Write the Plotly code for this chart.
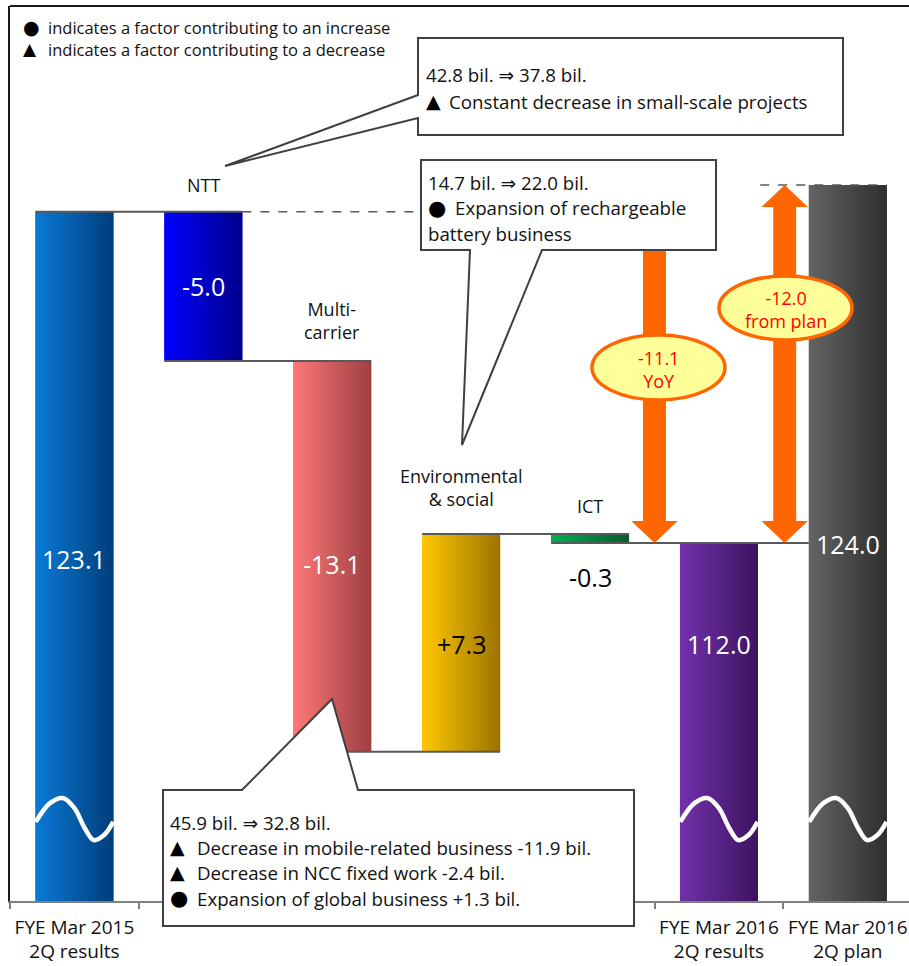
import plotly.graph_objects as go

# ---------------- data ----------------
categories = ["FYE Mar 2015 2Q results", "NTT", "Multi-carrier", "Environmental & social",
              "ICT", "FYE Mar 2016 2Q results", "FYE Mar 2016 2Q plan"]
start_value = 123.1
segment_names = ["NTT", "Multi-carrier", "Environmental & social", "ICT"]
segment_changes = [-5.0, -13.1, 7.3, -0.3]
result_value = 112.0
plan_value = 124.0
yoy_change = -11.1
plan_change = -12.0
tick_positions = [0, 5, 6]
tick_labels = ["FYE Mar 2015<br>2Q results", "FYE Mar 2016<br>2Q results", "FYE Mar 2016<br>2Q plan"]
value_texts = ["123.1", "-5.0", "-13.1", "+7.3", "-0.3", "112.0", "124.0"]
segment_titles = ["NTT", "Multi-<br>carrier", "Environmental<br>& social", "ICT"]

# ---------------- styles / layout constants ----------------
W, H = 909, 966
ML, MR, MT, MB = 10, 0, 6, 65
Y0, Y1 = 100, 130
X0 = -0.5
PXX = 128.9
X1 = X0 + (W - ML - MR) / PXX
PXY = (H - MT - MB) / (Y1 - Y0)
FONT = "'Open Sans', 'DejaVu Sans', sans-serif"
SYMFONT = "'DejaVu Sans', sans-serif"
bar_colors = ["#0665B4", "#0000D8", "#DD6464", "#DDA300", "#00A04A", "#5A2290", "#4C4C4C"]
grad_left = ["#0A7AD6", "#0000FF", "#FF7878", "#FFC800", "#00B050", "#7230AA", "#646464"]
grad_right = ["#003D7A", "#00008C", "#9E3F42", "#9C7300", "#0A5A30", "#3C1460", "#2E2E2E"]
label_colors = ["white", "white", "white", "black", "black", "white", "white"]
label_y = [111.45, 120.6, 111.3, 108.6, 110.85, 108.6, 111.95]
BAR_W = 0.605
CONN = "#595959"
ORANGE = "#FF6600"
TXT = "#111111"


def px2x(p):
    return (p - ML) / PXX + X0


def py2y(p):
    return Y1 - (p - MT) / PXY


def px2p(p):
    return (p - ML) / (W - ML - MR)


def py2p(p):
    return (H - MB - p) / (H - MT - MB)


fig = go.Figure()

# ---------------- bars ----------------
levels = [start_value]
for d in segment_changes:
    levels.append(levels[-1] + d)

bases = [0] + levels[:-1] + [0, 0]
heights = [start_value] + segment_changes + [result_value, plan_value]
hb = BAR_W / 2
for i in range(len(categories)):
    fig.add_trace(go.Bar(x=[i], y=[heights[i]], base=[bases[i]], width=BAR_W,
                         marker=dict(color=bar_colors[i], line=dict(width=0)),
                         name=categories[i], showlegend=False, hoverinfo="skip"))

# horizontal gradient shading over each bar (same geometry as the bar)
for i in range(len(categories)):
    b = max(bases[i], Y0 - 1)
    t = bases[i] + heights[i]
    fig.add_trace(go.Scatter(x=[i - hb, i + hb, i + hb, i - hb, i - hb], y=[b, b, t, t, b],
                             mode="lines", fill="toself", line=dict(width=0),
                             fillgradient=dict(type="horizontal",
                                               colorscale=[[0, grad_left[i]], [1, grad_right[i]]]),
                             showlegend=False, hoverinfo="skip"))

# broken-axis white waves on total bars
wave_dx = [-0.30, -0.19, -0.09, 0.0, 0.08, 0.15, 0.23, 0.30]
wave_y = [102.65, 103.28, 103.45, 103.11, 102.44, 102.04, 102.21, 102.65]
for c in [0, 5, 6]:
    fig.add_trace(go.Scatter(x=[c + d for d in wave_dx], y=wave_y, mode="lines",
                             line=dict(color="white", width=4.5, shape="spline"),
                             showlegend=False, hoverinfo="skip"))

shapes = []
# connector lines
shapes.append(dict(type="line", x0=0 - hb, x1=1 + hb, y0=start_value, y1=start_value,
                   line=dict(color=CONN, width=2)))
shapes.append(dict(type="line", x0=1 + hb, x1=3.2, y0=start_value, y1=start_value,
                   line=dict(color=CONN, width=1.5, dash="dash")))
for k in range(1, len(segment_changes)):
    lv = levels[k]
    shapes.append(dict(type="line", x0=k - hb, x1=k + 1 + hb, y0=lv, y1=lv,
                       line=dict(color=CONN, width=2)))
shapes.append(dict(type="line", x0=4 - hb, x1=6 - hb, y0=result_value, y1=result_value,
                   line=dict(color=CONN, width=2)))
shapes.append(dict(type="line", x0=5.5 - 0.18, x1=6 + hb, y0=plan_value, y1=plan_value,
                   line=dict(color=CONN, width=1.5, dash="dash")))

# orange arrows
sh, hh, hl = 0.089, 0.18, 0.74
ax1 = 4.5
shapes.append(dict(type="path", fillcolor=ORANGE, line=dict(width=0),
                   path=(f"M {ax1-sh},{start_value} L {ax1+sh},{start_value} L {ax1+sh},{result_value+hl} "
                         f"L {ax1+hh},{result_value+hl} L {ax1},{result_value} L {ax1-hh},{result_value+hl} "
                         f"L {ax1-sh},{result_value+hl} Z")))
ax2 = 5.51
shapes.append(dict(type="path", fillcolor=ORANGE, line=dict(width=0),
                   path=(f"M {ax2},{plan_value} L {ax2+hh},{plan_value-hl} L {ax2+sh},{plan_value-hl} "
                         f"L {ax2+sh},{result_value+hl} L {ax2+hh},{result_value+hl} L {ax2},{result_value} "
                         f"L {ax2-hh},{result_value+hl} L {ax2-sh},{result_value+hl} L {ax2-sh},{plan_value-hl} "
                         f"L {ax2-hh},{plan_value-hl} Z")))

# ellipses
ell = [(592, 725, 335, 400), (719, 852, 276, 340)]
for (a, b, c, d) in ell:
    shapes.append(dict(type="circle", x0=px2x(a), x1=px2x(b), y0=py2y(d), y1=py2y(c),
                       fillcolor="#FFFF99", line=dict(color=ORANGE, width=3.5)))


def callout(pts):
    s = "M " + " L ".join(f"{px2p(x):.5f},{py2p(y):.5f}" for x, y in pts) + " Z"
    return dict(type="path", xref="paper", yref="paper", path=s, fillcolor="white",
                line=dict(color="#404040", width=2), layer="above")


shapes.append(callout([(418, 38), (843, 38), (843, 135), (418, 135), (418, 118), (225, 166), (418, 95)]))
shapes.append(callout([(421, 160), (716, 160), (716, 250), (542, 250), (462, 445), (470, 250), (421, 250)]))
shapes.append(callout([(163, 790), (242, 790), (332, 699), (358, 790), (634, 790), (634, 926), (163, 926)]))

# top frame line
shapes.append(dict(type="line", xref="paper", yref="paper", x0=0, x1=1, y0=1, y1=1,
                   line=dict(color="#1a1a1a", width=2)))

annotations = []
# value labels
for i, t in enumerate(value_texts):
    annotations.append(dict(x=i, y=label_y[i], text=t, showarrow=False,
                            font=dict(family=FONT, size=25, color=label_colors[i])))
# segment titles
title_py = [185, 320, 487, 506]
for k, t in enumerate(segment_titles):
    annotations.append(dict(x=k + 1, y=py2y(title_py[k]), text=t, showarrow=False,
                            font=dict(family=FONT, size=18, color=TXT)))
# ellipse texts
annotations.append(dict(x=px2x(658.5), y=py2y(369), text=f"{yoy_change:+.1f}<br>YoY", showarrow=False,
                        font=dict(family=FONT, size=18, color="#FF0000")))
annotations.append(dict(x=px2x(785.5), y=py2y(309), text=f"{plan_change:+.1f}<br>from plan", showarrow=False,
                        font=dict(family=FONT, size=18, color="#FF0000")))

DOT = "●"
TRI = "▲"


def text_line(xp, yp, t, size=18.7, sym=None, gap=27, ssize=None):
    tx = xp
    if sym is not None:
        if ssize is None:
            ssize = 21 if sym == DOT else 19
        annotations.append(dict(x=px2p(xp), y=py2p(yp), xref="paper", yref="paper", text=sym,
                                showarrow=False, xanchor="left", yanchor="middle",
                                font=dict(family=SYMFONT, size=ssize, color="black")))
        tx = xp + gap
    annotations.append(dict(x=px2p(tx), y=py2p(yp), xref="paper", yref="paper", text=t,
                            showarrow=False, xanchor="left", yanchor="middle",
                            font=dict(family=FONT, size=size, color=TXT)))


text_line(21, 27, "indicates a factor contributing to an increase", 16.5, DOT, 25, 19)
text_line(21, 49, "indicates a factor contributing to a decrease", 16.5, TRI, 25, 17)
text_line(424, 75, "42.8 bil. ⇒ 37.8 bil.")
text_line(424, 101, "Constant decrease in small-scale projects", sym=TRI, gap=23)
text_line(426, 182, "14.7 bil. ⇒ 22.0 bil.")
text_line(426, 208, "Expansion of rechargeable", sym=DOT, gap=27)
text_line(426, 233, "battery business")
text_line(168, 822, "45.9 bil. ⇒ 32.8 bil.")
text_line(168, 847, "Decrease in mobile-related business -11.9 bil.", sym=TRI, gap=27)
text_line(168, 872, "Decrease in NCC fixed work -2.4 bil.", sym=TRI, gap=27)
text_line(168, 898, "Expansion of global business +1.3 bil.", sym=DOT, gap=27)

fig.update_layout(
    width=W, height=H, margin=dict(l=ML, r=MR, t=MT, b=MB),
    plot_bgcolor="white", paper_bgcolor="white",
    barmode="overlay", showlegend=False,
    shapes=shapes, annotations=annotations,
    xaxis=dict(range=[X0, X1], showgrid=False, zeroline=False, showline=True,
               linecolor="#7f7f7f", linewidth=1.5, tickmode="array",
               tickvals=tick_positions, ticktext=tick_labels, ticks="",
               tickfont=dict(family=FONT, size=19, color=TXT),
               ticklabelstandoff=8,
               minor=dict(tickmode="array", tickvals=[X0 + i for i in range(8)],
                          ticks="outside", ticklen=6, tickwidth=1.5, tickcolor="#7f7f7f",
                          showgrid=False)),
    yaxis=dict(range=[Y0, Y1], showgrid=False, zeroline=False, showline=True,
               linecolor="#1a1a1a", linewidth=2, showticklabels=False, ticks=""),
)

fig.write_html("out.html")
